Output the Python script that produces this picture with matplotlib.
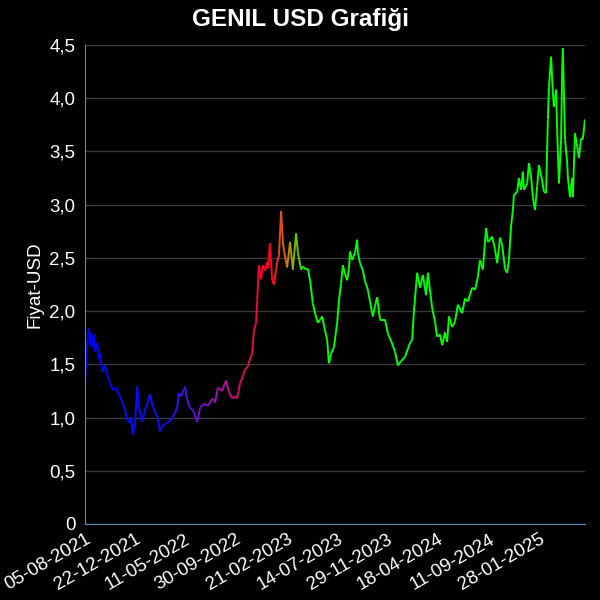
import numpy as np
import pandas as pd
import matplotlib
matplotlib.use("Agg")
import matplotlib.pyplot as plt
import matplotlib.dates as mdates
from matplotlib.collections import LineCollection
from matplotlib.colors import LinearSegmentedColormap
from matplotlib.ticker import FuncFormatter

plt.rcParams['font.family'] = ['Liberation Sans', 'DejaVu Sans']

# ---------------- data ----------------
start_date = "2021-08-05"
end_date = "2025-06-05"

days = [0, 3, 8, 11, 14, 17, 22, 25, 28, 34, 39, 42, 48, 56, 62, 70, 78, 87, 92, 98,
        104, 112, 118, 126, 129, 134, 140, 146, 151, 160, 168, 176, 182, 188, 196, 202,
        210, 218, 230, 238, 244, 252, 258, 263, 269, 280, 286, 294, 302, 314, 322, 333,
        344, 358, 364, 372, 384, 395, 403, 412, 420, 426, 434, 442, 448, 456, 462, 468,
        473, 479, 482, 487, 493, 498, 504, 510, 512, 518, 524, 529, 535, 538, 543, 549,
        554, 557, 566, 574, 582, 591, 596, 605, 610, 619, 624, 630, 638, 644, 652, 658,
        664, 672, 678, 683, 689, 697, 706, 711, 717, 722, 728, 734, 739, 742, 748, 756,
        762, 764, 770, 778, 784, 792, 798, 806, 812, 818, 826, 840, 848, 857, 868, 876,
        885, 896, 910, 916, 921, 930, 938, 946, 955, 960, 972, 980, 986, 994, 1000, 1008,
        1014, 1019, 1028, 1036, 1044, 1056, 1064, 1072, 1084, 1092, 1100, 1106, 1114, 1123,
        1128, 1134, 1140, 1148, 1154, 1162, 1168, 1176, 1182, 1187, 1193, 1198, 1201, 1210,
        1215, 1221, 1226, 1229, 1238, 1243, 1249, 1254, 1260, 1266, 1271, 1280, 1285, 1291,
        1296, 1299, 1305, 1310, 1313, 1319, 1322, 1327, 1333, 1336, 1338, 1344, 1350, 1352,
        1358, 1364, 1366, 1372, 1378, 1383, 1389, 1394, 1400]

prices = [1.31, 1.54, 1.75, 1.84, 1.68, 1.80, 1.66, 1.78, 1.62, 1.70, 1.55, 1.60, 1.43, 1.49, 1.40, 1.32, 1.26, 1.28, 1.23, 1.20,
          1.15, 1.07, 0.98, 0.95, 1.00, 0.84, 0.95, 1.29, 1.10, 0.96, 1.07, 1.15, 1.22, 1.13, 1.05, 1.02,
          0.87, 0.93, 0.95, 0.97, 1.00, 1.04, 1.10, 1.23, 1.20, 1.29, 1.17, 1.09, 1.07, 0.96, 1.09, 1.13,
          1.11, 1.18, 1.14, 1.28, 1.25, 1.35, 1.24, 1.18, 1.20, 1.18, 1.32, 1.39, 1.45, 1.48, 1.55, 1.60,
          1.82, 1.89, 2.10, 2.43, 2.30, 2.43, 2.38, 2.46, 2.40, 2.64, 2.29, 2.25, 2.38, 2.46, 2.52, 2.94,
          2.65, 2.57, 2.41, 2.65, 2.39, 2.73, 2.55, 2.39, 2.42, 2.39, 2.40, 2.29, 2.07, 1.98, 1.89, 1.92,
          1.95, 1.82, 1.73, 1.51, 1.60, 1.66, 1.89, 2.10, 2.26, 2.43, 2.35, 2.29, 2.40, 2.56, 2.48, 2.55,
          2.67, 2.55, 2.45, 2.38, 2.28, 2.20, 2.09, 1.95, 2.05, 2.13, 1.92, 1.92, 1.79, 1.72, 1.62, 1.49,
          1.53, 1.57, 1.70, 1.73, 2.00, 2.36, 2.22, 2.34, 2.15, 2.36, 2.03, 1.90, 1.76, 1.78, 1.68, 1.80,
          1.71, 1.95, 1.85, 1.90, 2.06, 1.98, 2.12, 2.09, 2.22, 2.20, 2.32, 2.48, 2.39, 2.78,
          2.65, 2.67, 2.70, 2.58, 2.45, 2.69, 2.62, 2.40, 2.36, 2.48, 2.80, 2.95, 3.09, 3.12,
          3.25, 3.14, 3.31, 3.14, 3.20, 3.39, 3.26, 3.07, 2.95, 3.17, 3.37, 3.23, 3.12, 3.11,
          3.80, 4.10, 4.39, 4.05, 3.92, 4.08, 3.70, 3.20, 3.60, 4.27, 4.47, 3.61, 3.40, 3.26,
          3.07, 3.25, 3.07, 3.67, 3.55, 3.44, 3.62, 3.62, 3.80]

tick_dates = ["2021-08-05", "2021-12-22", "2022-05-11", "2022-09-30", "2023-02-21",
              "2023-07-14", "2023-11-29", "2024-04-18", "2024-09-11", "2025-01-28"]

# ---------------- plot ----------------
dates = pd.Timestamp(start_date) + pd.to_timedelta(days, unit="D")
x = mdates.date2num(dates.to_pydatetime())
y = np.array(prices)

cmap = LinearSegmentedColormap.from_list("genil", [
    (0.00, "#0000ff"), (0.16, "#1010ff"), (0.24, "#8010c8"), (0.32, "#e01050"),
    (0.37, "#ff0020"), (0.395, "#e06010"), (0.41, "#a0a010"), (0.44, "#00ff00"),
    (1.00, "#00ff00")])

pts = np.column_stack([x, y]).reshape(-1, 1, 2)
segs = np.concatenate([pts[:-1], pts[1:]], axis=1)
frac = (x[:-1] - x[0]) / (x[-1] - x[0])

fig = plt.figure(figsize=(6, 6), dpi=100, facecolor="black")
ax = fig.add_axes([0.1417, 0.1267, 0.8333, 0.7983])
ax.set_facecolor("black")

lc = LineCollection(segs, colors=cmap(frac), linewidth=1.4)
ax.add_collection(lc)

ax.set_xlim(mdates.date2num(pd.Timestamp(start_date)), mdates.date2num(pd.Timestamp(end_date)))
ax.set_ylim(0, 4.5)
ax.set_yticks(np.arange(0, 4.51, 0.5))
ax.yaxis.set_major_formatter(FuncFormatter(lambda v, p: "0" if v == 0 else f"{v:.1f}".replace(".", ",")))

ticks = [pd.Timestamp(d) for d in tick_dates]
ax.set_xticks(mdates.date2num(ticks))
ax.set_xticklabels([t.strftime("%d-%m-%Y") for t in ticks], rotation=30, ha="right",
                   rotation_mode="anchor", fontsize=12.5)

ax.grid(axis="y", color="#3a3a3a", linewidth=1)
ax.set_axisbelow(True)
ax.tick_params(colors="white", labelsize=13.5, length=0)
ax.tick_params(axis="y", pad=7)
ax.tick_params(axis="x", pad=5)
for side in ["top", "right"]:
    ax.spines[side].set_visible(False)
for side in ["left", "bottom"]:
    ax.spines[side].set_color("#5b8db8")

ax.set_ylabel("Fiyat-USD", color="white", fontsize=13.5, labelpad=4)
fig.text(0.5, 0.968, "GENIL USD Grafiği", color="white", fontsize=17.5,
         fontweight="bold", ha="center", va="center")

fig.savefig("out.png", dpi=100, facecolor="black")
